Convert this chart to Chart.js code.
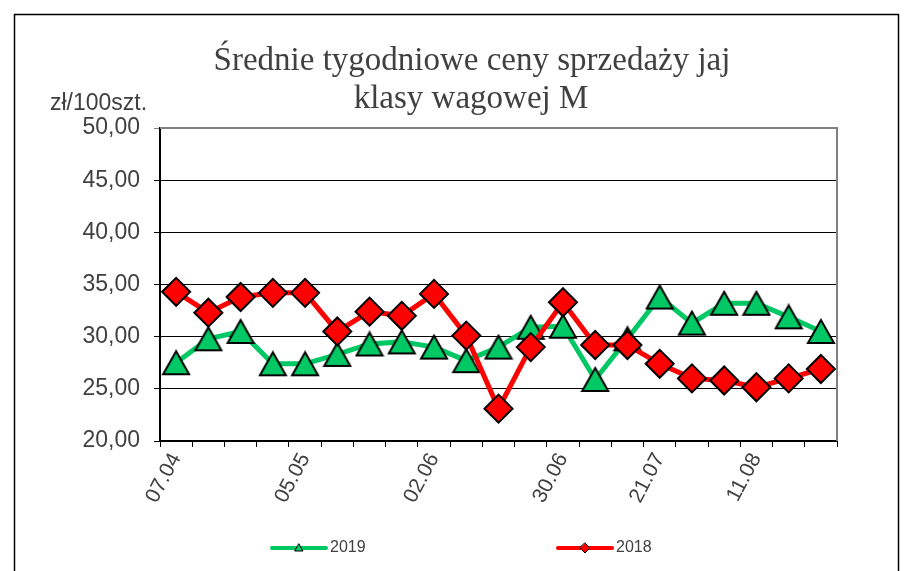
<!DOCTYPE html>
<html>
<head>
<meta charset="utf-8">
<script src="https://cdn.jsdelivr.net/npm/chart.js@4/dist/chart.umd.min.js"></script>
<style>
  html, body { margin: 0; padding: 0; background: #fff; }
  #wrap { width: 905px; height: 571px; }
</style>
</head>
<body>
<div id="wrap"><canvas id="eggChart" width="905" height="571"></canvas></div>
<script>
// tygodnie (kategorie osi X)
const weeks = ['07.04', '14.04', '21.04', '28.04', '05.05', '12.05', '19.05', '26.05',
  '02.06', '09.06', '16.06', '23.06', '30.06', '07.07', '14.07', '21.07',
  '28.07', '04.08', '11.08', '18.08', '25.08'];
// etykiety widoczne na osi
const shownLabels = ['07.04', '05.05', '02.06', '30.06', '21.07', '11.08'];
const yTicks = [20, 25, 30, 35, 40, 45, 50];

const prices2019 = [27.5, 29.8, 30.5, 27.4, 27.4, 28.3, 29.3, 29.5, 29.0, 27.7, 29.0,
  30.9, 31.0, 25.9, 29.8, 33.8, 31.3, 33.2, 33.2, 31.9, 30.5];
const prices2018 = [34.3, 32.3, 33.8, 34.2, 34.2, 30.5, 32.4, 32.0, 34.1, 30.1, 23.1,
  29.0, 33.3, 29.2, 29.2, 27.4, 26.0, 25.8, 25.15, 26.0, 26.9];

const GREEN = '#00C864';
const RED = '#FF0000';
const TXT = '#404040';

// trójkąt jak w Excelu - wyśrodkowany w prostokącie
function triangleImg(w, h, lw) {
  const c = document.createElement('canvas');
  c.width = w + lw * 2;
  c.height = h + lw * 2;
  const g = c.getContext('2d');
  g.beginPath();
  g.moveTo(c.width / 2, lw);
  g.lineTo(c.width - lw, lw + h);
  g.lineTo(lw, lw + h);
  g.closePath();
  g.fillStyle = GREEN;
  g.fill();
  g.lineWidth = lw;
  g.lineJoin = 'miter';
  g.strokeStyle = '#000';
  g.stroke();
  return c;
}
const triMarker = triangleImg(26, 23, 2);

const decorPlugin = {
  id: 'decor',
  beforeDraw(chart) {
    const ctx = chart.ctx;
    ctx.save();
    ctx.fillStyle = '#fff';
    ctx.fillRect(0, 0, chart.width, chart.height);
    ctx.restore();
  },
  beforeDatasetsDraw(chart) {
    const { ctx, chartArea: a } = chart;
    ctx.save();
    ctx.strokeStyle = '#808080';
    ctx.lineWidth = 2;
    ctx.beginPath();
    ctx.moveTo(a.left, a.top);
    ctx.lineTo(a.right, a.top);
    ctx.lineTo(a.right, a.bottom);
    ctx.stroke();
    ctx.restore();
  },
  afterDraw(chart) {
    const ctx = chart.ctx;
    ctx.save();
    // ramka wykresu
    ctx.strokeStyle = '#000';
    ctx.lineWidth = 1.5;
    ctx.strokeRect(14.5, 14.5, 884, 620);

    // tytuł
    ctx.fillStyle = TXT;
    ctx.textAlign = 'center';
    ctx.textBaseline = 'middle';
    ctx.font = '33px "Liberation Serif"';
    ctx.fillText('Średnie tygodniowe ceny sprzedaży jaj', 472, 61);
    ctx.fillText('klasy wagowej M', 471, 99);

    // jednostka
    ctx.font = '23px "Liberation Sans"';
    ctx.textAlign = 'left';
    ctx.fillText('zł/100szt.', 50, 104);

    // legenda
    const items = [
      { x: 272, color: GREEN, text: '2019', tri: true },
      { x: 558, color: RED, text: '2018', tri: false }
    ];
    const ly = 548;
    items.forEach(it => {
      ctx.strokeStyle = it.color;
      ctx.lineWidth = 4;
      ctx.lineCap = 'round';
      ctx.beginPath();
      ctx.moveTo(it.x, ly);
      ctx.lineTo(it.x + 54, ly);
      ctx.stroke();
      const mx = it.x + 27;
      ctx.fillStyle = it.color;
      ctx.strokeStyle = '#000';
      ctx.lineWidth = 1;
      ctx.beginPath();
      if (it.tri) {
        ctx.moveTo(mx, ly - 4);
        ctx.lineTo(mx + 4, ly + 3);
        ctx.lineTo(mx - 4, ly + 3);
      } else {
        ctx.moveTo(mx, ly - 5);
        ctx.lineTo(mx + 5, ly);
        ctx.lineTo(mx, ly + 5);
        ctx.lineTo(mx - 5, ly);
      }
      ctx.closePath();
      ctx.fill();
      ctx.stroke();
      ctx.fillStyle = TXT;
      ctx.font = '16px "Liberation Sans"';
      ctx.textBaseline = 'middle';
      ctx.fillText(it.text, it.x + 58, ly);
    });
    ctx.restore();
  }
};

new Chart(document.getElementById('eggChart'), {
  type: 'line',
  data: {
    labels: weeks,
    datasets: [
      {
        label: '2019',
        data: prices2019,
        borderColor: GREEN,
        borderWidth: 5,
        pointStyle: triMarker,
        pointRadius: 14,
        order: 1,
        tension: 0
      },
      {
        label: '2018',
        data: prices2018,
        borderColor: RED,
        backgroundColor: RED,
        borderWidth: 5,
        pointStyle: 'rectRot',
        pointRadius: 14,
        pointBackgroundColor: RED,
        pointBorderColor: '#000',
        pointBorderWidth: 2,
        order: 0,
        tension: 0
      }
    ]
  },
  options: {
    responsive: false,
    animation: false,
    events: [],
    layout: { padding: { left: 0, top: 128, right: 68, bottom: 0 } },
    plugins: {
      legend: { display: false },
      title: { display: false },
      tooltip: { enabled: false }
    },
    scales: {
      x: {
        offset: true,
        afterFit(scale) { scale.height = 130; },
        grid: {
          offset: true,
          drawOnChartArea: false,
          drawTicks: true,
          tickLength: 6,
          color: '#000',
          lineWidth: 1
        },
        border: { color: '#000', width: 2 },
        ticks: {
          autoSkip: false,
          minRotation: 62,
          maxRotation: 62,
          padding: 2,
          color: TXT,
          font: { family: '"Liberation Sans"', size: 21 },
          callback(value) {
            const lab = this.getLabelForValue(value);
            return shownLabels.includes(lab) ? lab : '';
          }
        }
      },
      y: {
        min: yTicks[0],
        max: yTicks[yTicks.length - 1],
        afterFit(scale) { scale.width = 160; },
        afterBuildTicks(scale) { scale.ticks = yTicks.map(v => ({ value: v })); },
        grid: {
          color: ctx => (ctx.tick && ctx.tick.value === 50 ? '#808080' : '#000'),
          lineWidth: 1,
          drawTicks: true,
          tickLength: 6
        },
        border: { color: '#000', width: 2 },
        ticks: {
          padding: 14,
          color: TXT,
          font: { family: '"Liberation Sans"', size: 23 },
          callback: v => v.toFixed(2).replace('.', ',')
        }
      }
    }
  },
  plugins: [decorPlugin]
});
</script>
</body>
</html>
